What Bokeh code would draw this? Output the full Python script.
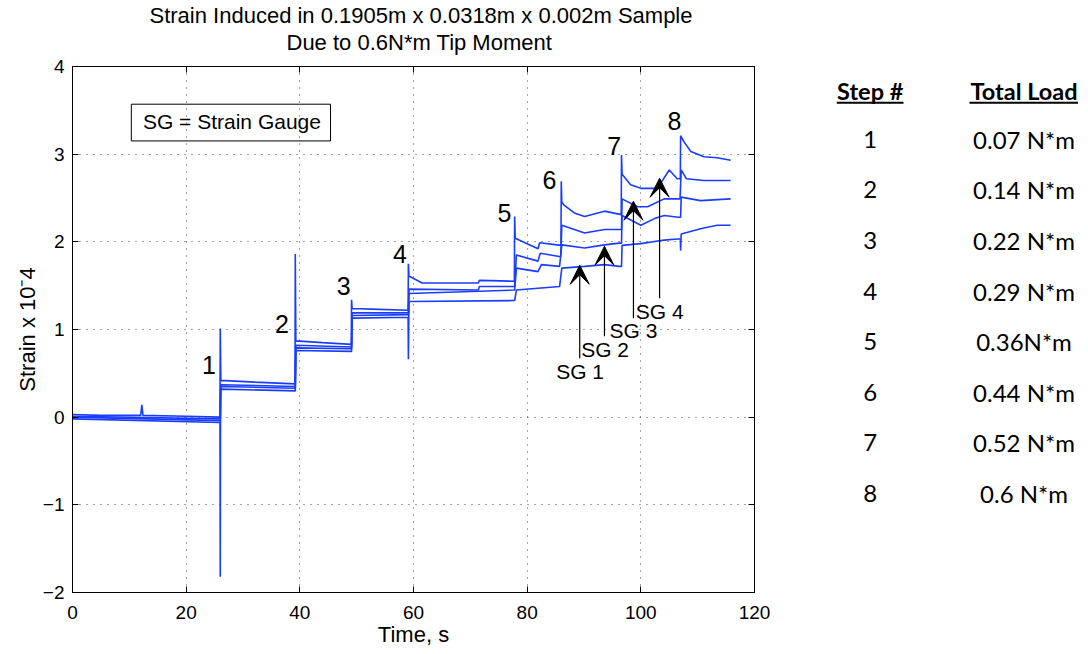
from bokeh.plotting import figure
from bokeh.models import (Range1d, LinearAxis, FixedTicker, Title, BoxAnnotation,
                          Label, Arrow, VeeHead)
from bokeh.layouts import row
from bokeh.embed import file_html
from bokeh.resources import INLINE
from bokeh.core.properties import value

# ---------------- data ----------------
x_ticks = [0, 20, 40, 60, 80, 100, 120]
y_ticks = [-2, -1, 0, 1, 2, 3, 4]
y_tick_labels = {-2: "\u22122", -1: "\u22121"}

# Strain gauge 4 (top trace)
sg4_t = [0, 5, 12.0, 12.2, 12.4, 20, 25.95, 26.0, 26.1, 32, 39.15, 39.2, 39.3, 44, 49.05,
         49.1, 49.2, 54, 59.05, 59.1, 59.2, 61.5, 66, 71.4, 71.6, 77.75, 77.8, 77.9, 81.9,
         82.2, 85.95, 86.0, 86.1, 86.5, 88.3, 90.1, 93.6, 96.55, 96.6, 96.7, 98.2, 100.0,
         102.4, 103.5, 105.0, 106.4, 106.95, 107.0, 107.6, 108.8, 111.1, 113.4, 115.8]
sg4_v = [0.03, 0.02, 0.02, 0.14, 0.02, 0.01, 0.0, 1.01, 0.42, 0.40, 0.38, 1.86, 0.87, 0.85,
         0.83, 1.34, 1.24, 1.23, 1.22, 1.75, 1.61, 1.53, 1.53, 1.53, 1.56, 1.55, 2.29, 2.04,
         1.92, 1.99, 1.96, 2.69, 2.45, 2.42, 2.33, 2.29, 2.35, 2.31, 2.99, 2.77, 2.65, 2.61,
         2.61, 2.67, 2.82, 2.72, 2.72, 3.21, 3.14, 3.03, 2.97, 2.96, 2.93]

# Strain gauge 3
sg3_t = [0, 26.0, 26.1, 39.2, 39.3, 49.1, 49.2, 59.1, 59.2, 71.4, 71.6, 77.8, 78.1, 81.9,
         82.3, 85.9, 86.1, 90.1, 93.6, 96.6, 96.7, 99.4, 101.2, 104.1, 106.9, 107.1, 108.0,
         111.1, 115.8]
sg3_v = [0.01, -0.02, 0.37, 0.35, 0.82, 0.80, 1.19, 1.19, 1.46, 1.45, 1.49, 1.49, 1.85, 1.78,
         1.87, 1.83, 2.19, 2.10, 2.14, 2.14, 2.49, 2.40, 2.40, 2.49, 2.49, 2.82, 2.72, 2.70,
         2.70]

# Strain gauge 2
sg2_t = [0, 26.0, 26.1, 39.2, 39.3, 49.1, 49.2, 59.1, 59.2, 77.8, 78.1, 81.9, 82.5, 85.7,
         86.1, 90.1, 93.6, 96.2, 96.6, 96.7, 100.0, 102.4, 104.1, 106.6, 107.0, 107.1, 110.5,
         115.8]
sg2_v = [0.0, -0.04, 0.35, 0.33, 0.79, 0.78, 1.16, 1.17, 1.41, 1.45, 1.70, 1.66, 1.74, 1.72,
         1.965, 1.93, 1.965, 1.985, 1.985, 2.30, 2.19, 2.265, 2.30, 2.28, 2.28, 2.51, 2.47,
         2.49]

# Strain gauge 1 (bottom trace)
sg1_t = [0, 25.95, 26.0, 26.05, 39.2, 39.3, 49.1, 49.2, 59.05, 59.1, 59.2, 77.8, 78.1, 85.7,
         86.1, 90.1, 93.6, 96.2, 96.6, 96.7, 100.0, 104.1, 106.95, 107.0, 107.1, 110.5, 113.4,
         115.8]
sg1_v = [-0.02, -0.06, -1.82, 0.32, 0.30, 0.76, 0.75, 1.13, 1.14, 0.66, 1.32, 1.33, 1.45,
         1.49, 1.70, 1.72, 1.74, 1.72, 1.72, 1.96, 1.98, 2.02, 2.035, 1.90, 2.09, 2.15, 2.19,
         2.19]

steps = ["1", "2", "3", "4", "5", "6", "7", "8"]
loads = ["0.07 N*m", "0.14 N*m", "0.22 N*m", "0.29 N*m", "0.36N*m", "0.44 N*m",
         "0.52 N*m", "0.6 N*m"]
gauge_names = ["SG 1", "SG 2", "SG 3", "SG 4"]
headers = ["Step #", "Total Load"]
title_lines = ["Strain Induced in 0.1905m x 0.0318m x 0.002m Sample",
               "Due to 0.6N*m Tip Moment"]

# ---------------- layout / style constants ----------------
FONT = "Liberation Sans"
TABLE_FONT = "Lato"
BLUE = "#1a3cff"
BASE_FIX = 0.10          # raise alphabetic baselines (svg text sits a bit low)

P_W, P_H = 774, 652
BORDER_L, BORDER_T, BORDER_B = 72, 66, 60
TITLE_OFFSETS = [77, 214]   # left edge of each title line, from the frame's left edge

step_lab_x = [24.0, 36.85, 47.7, 57.6, 76.0, 83.9, 95.3, 105.9]
step_lab_y = [v + BASE_FIX for v in [0.50, 0.958, 1.395, 1.756, 2.232, 2.604, 2.992, 3.277]]

arrow_x = [89.25, 93.6, 98.7, 103.3]
arrow_y0 = [0.673, 0.924, 1.129, 1.357]
arrow_y1 = [1.733, 1.95, 2.463, 2.726]
sg_lab_x = [85.1, 89.5, 94.5, 99.1]
sg_lab_y = [v + BASE_FIX for v in [0.425, 0.673, 0.893, 1.110]]

p = figure(width=P_W, height=P_H, x_range=Range1d(0, 120), y_range=Range1d(-2, 4),
           output_backend="svg", toolbar_location=None, title=None,
           min_border_left=BORDER_L, min_border_right=20, min_border_top=BORDER_T,
           min_border_bottom=BORDER_B, background_fill_color="white",
           border_fill_color="white")

xax = p.below[0]
yax = p.left[0]

top_ax = LinearAxis(ticker=FixedTicker(ticks=x_ticks), major_label_text_font_size="1px",
                    major_label_overrides={v: "" for v in x_ticks}, major_tick_in=6,
                    major_tick_out=0, minor_tick_line_color=None, axis_line_color="black",
                    major_tick_line_color="black", major_label_standoff=0)
p.add_layout(top_ax, "above")
right_ax = LinearAxis(ticker=FixedTicker(ticks=y_ticks), major_label_text_font_size="1px",
                      major_label_overrides={v: "" for v in y_ticks}, major_tick_in=6,
                      major_tick_out=0, minor_tick_line_color=None, axis_line_color="black",
                      major_tick_line_color="black", major_label_standoff=0)
p.add_layout(right_ax, "right")

# small blank title used as a spacer between the frame and the two title lines
p.add_layout(Title(text=" ", text_font_size="8px", standoff=0), "above")
p.add_layout(Title(text=title_lines[1], align="left", offset=TITLE_OFFSETS[1],
                   text_font=FONT, text_font_size="22px", text_font_style="normal",
                   text_color="black", standoff=1), "above")
p.add_layout(Title(text=title_lines[0], align="left", offset=TITLE_OFFSETS[0],
                   text_font=FONT, text_font_size="22px", text_font_style="normal",
                   text_color="black", standoff=0), "above")

for ax in (xax, yax):
    ax.major_label_text_font = FONT
    ax.major_label_text_font_size = "19px"
    ax.major_label_text_color = "black"
    ax.axis_label_text_font = FONT
    ax.axis_label_text_font_size = "22px"
    ax.axis_label_text_font_style = "normal"
    ax.axis_label_text_color = "black"
    ax.major_tick_in = 6
    ax.major_tick_out = 0
    ax.minor_tick_line_color = None
    ax.axis_line_color = "black"
    ax.major_tick_line_color = "black"

xax.major_label_standoff = 13
yax.major_label_standoff = 8
xax.ticker = FixedTicker(ticks=x_ticks)
yax.ticker = FixedTicker(ticks=y_ticks)
yax.major_label_overrides = y_tick_labels
xax.axis_label = "Time, s"
xax.axis_label_standoff = 0
yax.axis_label = "Strain x 10\u207b4"
yax.axis_label_standoff = 0

p.xgrid.ticker = FixedTicker(ticks=x_ticks)
p.ygrid.ticker = FixedTicker(ticks=y_ticks)
for g in (p.xgrid[0], p.ygrid[0]):
    g.grid_line_color = "#444444"
    g.grid_line_dash = "1 6"
    g.grid_line_width = 1
p.outline_line_color = "black"
p.outline_line_alpha = 1

# traces
for tt, vv in ((sg1_t, sg1_v), (sg2_t, sg2_v), (sg3_t, sg3_v), (sg4_t, sg4_v)):
    p.line(tt, vv, line_color=BLUE, line_width=1.6)

# step numbers
p.text(x=step_lab_x, y=step_lab_y, text=steps, text_align="center",
       text_baseline="alphabetic", text_font=value(FONT), text_font_size="25px",
       text_color="black")

# SG box
p.add_layout(BoxAnnotation(left=10.35, right=45.4, bottom=3.151, top=3.57, fill_color=None,
                           fill_alpha=0, line_color="black", line_alpha=1, line_width=1))
p.add_layout(Label(x=28.05, y=3.288 + 0.09, text="SG = Strain Gauge", text_align="center",
                   text_baseline="alphabetic", text_font=FONT, text_font_size="21px",
                   text_color="black"))

# SG arrows
for i in range(4):
    p.add_layout(Arrow(end=VeeHead(size=19, fill_color="black", line_color="black",
                                   line_width=1),
                       x_start=arrow_x[i], y_start=arrow_y0[i], x_end=arrow_x[i],
                       y_end=arrow_y1[i], line_color="black", line_width=1.2))
p.text(x=sg_lab_x, y=sg_lab_y, text=gauge_names, text_align="left",
       text_baseline="alphabetic", text_font=value(FONT), text_font_size="21px",
       text_color="black")

# ---------------- table on the right: its own figure, coordinates = page pixels ----------------
T_LEFT = 2 + P_W
t = figure(width=1080 - T_LEFT, height=P_H, x_range=Range1d(T_LEFT, 1080),
           y_range=Range1d(594.3, 68.3), output_backend="svg", toolbar_location=None,
           title=None, x_axis_type=None, y_axis_type=None, min_border=0,
           outline_line_color=None, background_fill_color="white",
           border_fill_color="white")
t.grid.visible = False
col_step_x = 871.7
col_load_x = 1025.5
BASE_PX = 9
t.text(x=[col_step_x, col_load_x], y=[101.5 - BASE_PX] * 2, text=headers,
       text_align="center", text_baseline="alphabetic", text_font=value(TABLE_FONT),
       text_font_size="23.5px", text_font_style="bold", text_color="black")
t.segment(x0=[838.3, 971.0], y0=[104.5, 104.5], x1=[905.0, 1079.5], y1=[104.5, 104.5],
          line_color="black", line_width=2)
row_y = [150 + 50.6 * i - BASE_PX for i in range(len(steps))]
t.text(x=[col_step_x] * len(steps), y=row_y, text=steps, text_align="center",
       text_baseline="alphabetic", text_font=value(TABLE_FONT), text_font_size="24px",
       text_color="black")
t.text(x=[col_load_x] * len(loads), y=row_y, text=loads, text_align="center",
       text_baseline="alphabetic", text_font=value(TABLE_FONT), text_font_size="24px",
       text_color="black")

layout = row(p, t)
open("out.html", "w").write(file_html(layout, INLINE))
